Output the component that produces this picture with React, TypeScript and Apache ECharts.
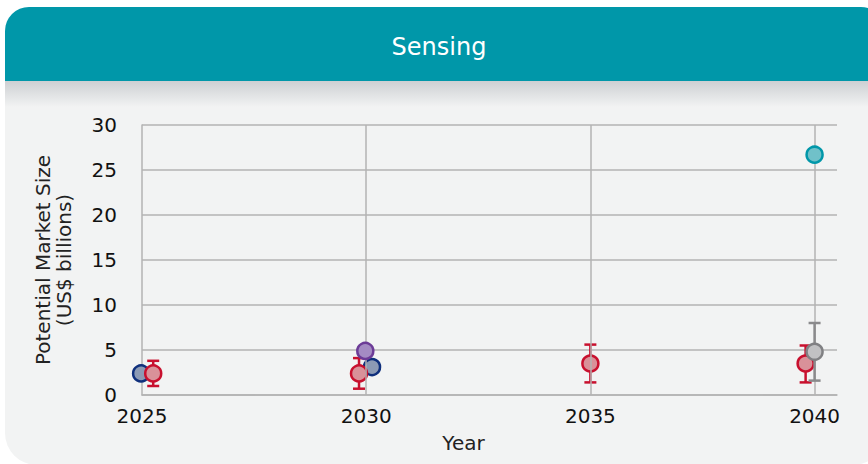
import React, { useEffect, useRef } from "react";
import * as echarts from "echarts";

const title = "Sensing";
const yAxisTitle = "Potential Market Size\n(US$ billions)";
const xAxisTitle = "Year";
const gridYears = [2025, 2030, 2035, 2040];

// [year (with slight horizontal offset as plotted), value]
const navySeries = [[2024.98, 2.4], [2030.13, 3.1]];
const pinkSeries = [[2025.25, 2.4], [2029.84, 2.4], [2035.0, 3.5], [2039.8, 3.5]];
const pinkErrors = [[2025.25, 1.0, 3.8], [2029.84, 0.7, 4.1], [2035.0, 1.4, 5.6], [2039.8, 1.4, 5.5]];
const purpleSeries = [[2029.98, 4.9]];
const tealSeries = [[2040.0, 26.7]];
const graySeries = [[2040.0, 4.8]];
const grayErrors = [[2040.0, 1.6, 8.0]];

const FONT = "DejaVu Sans";

function errorSeries(data: number[][], color: string, z: number) {
  return {
    type: "custom",
    z,
    silent: true,
    clip: false,
    data,
    encode: { x: 0, y: [1, 2] },
    renderItem: (params: any, api: any) => {
      const x = api.value(0);
      const lo = api.coord([x, api.value(1)]);
      const hi = api.coord([x, api.value(2)]);
      const w = 6;
      const style = { stroke: color, lineWidth: 2.5, fill: "none" };
      return {
        type: "group",
        children: [
          { type: "line", shape: { x1: lo[0], y1: lo[1], x2: hi[0], y2: hi[1] }, style },
          { type: "line", shape: { x1: lo[0] - w, y1: lo[1], x2: lo[0] + w, y2: lo[1] }, style },
          { type: "line", shape: { x1: hi[0] - w, y1: hi[1], x2: hi[0] + w, y2: hi[1] }, style },
        ],
      };
    },
  };
}

function dotSeries(name: string, data: number[][], fill: string, border: string, z: number) {
  return {
    name,
    type: "scatter",
    z,
    clip: false,
    data,
    symbol: "circle",
    symbolSize: 16,
    itemStyle: { color: fill, borderColor: border, borderWidth: 2.5, opacity: 1 },
  };
}

export default function App() {
  const ref = useRef<HTMLDivElement>(null);
  useEffect(() => {
    document.body.style.margin = "0";
    const chart = echarts.init(ref.current!, undefined, { renderer: "svg" });
    chart.setOption({
      animation: false,
      backgroundColor: "#ffffff",
      graphic: [
        {
          type: "rect",
          z: -10,
          silent: true,
          shape: { x: 5, y: 7, width: 880, height: 458, r: 32 },
          style: { fill: "#f2f3f3" },
        },
        {
          type: "rect",
          z: -9,
          silent: true,
          shape: { x: 5, y: 7, width: 880, height: 74, r: [24, 24, 0, 0] },
          style: { fill: "#0097a9" },
        },
        {
          type: "rect",
          z: -9,
          silent: true,
          shape: { x: 5, y: 81, width: 880, height: 26 },
          style: {
            fill: new echarts.graphic.LinearGradient(0, 0, 0, 1, [
              { offset: 0, color: "#cdd0d3" },
              { offset: 1, color: "#f2f3f3" },
            ]),
          },
        },
        {
          type: "text",
          z: 10,
          x: 439,
          y: 47,
          style: {
            text: title,
            fill: "#ffffff",
            font: `24px ${FONT}`,
            align: "center",
            verticalAlign: "middle",
          },
        },
      ],
      grid: { left: 142, right: 31, top: 125, bottom: 69, containLabel: false },
      xAxis: {
        type: "value",
        min: 2025,
        max: 2040.5,
        interval: 5,
        name: xAxisTitle,
        nameLocation: "middle",
        nameGap: 38,
        nameTextStyle: { fontFamily: FONT, fontSize: 20, color: "#222", padding: [0, 52, 0, 0] },
        axisLine: { show: true, lineStyle: { color: "#b3b3b3", width: 1.5 } },
        axisTick: { show: false },
        splitLine: { show: false },
        axisLabel: {
          fontFamily: FONT,
          fontSize: 20,
          color: "#111",
          margin: 11,
          showMaxLabel: false,
          formatter: (v: number) => (v % 5 === 0 ? String(v) : ""),
        },
      },
      yAxis: {
        type: "value",
        min: 0,
        max: 30,
        interval: 5,
        name: yAxisTitle,
        nameLocation: "middle",
        nameGap: 68,
        nameRotate: 90,
        nameTextStyle: { fontFamily: FONT, fontSize: 20, color: "#222", lineHeight: 21 },
        axisLine: { show: true, lineStyle: { color: "#b3b3b3", width: 1.5 } },
        axisTick: { show: false },
        splitLine: { show: true, lineStyle: { color: "#b3b3b3", width: 1.5 } },
        axisLabel: { fontFamily: FONT, fontSize: 20, color: "#111", margin: 25 },
      },
      series: [
        {
          type: "scatter",
          data: [],
          silent: true,
          z: 0,
          markLine: {
            silent: true,
            symbol: "none",
            label: { show: false },
            lineStyle: { color: "#b3b3b3", width: 1.5, type: "solid" },
            data: gridYears.slice(1).map((y) => ({ xAxis: y })),
          },
        },
        dotSeries("A", navySeries, "#8c9ab4", "#0f2f7c", 2),
        errorSeries(pinkErrors, "#c8102e", 3),
        dotSeries("B", pinkSeries, "#d99199", "#c8102e", 4),
        dotSeries("C", purpleSeries, "#a48bc3", "#6c3b97", 5),
        dotSeries("D", tealSeries, "#70c1c9", "#0097a9", 5),
        errorSeries(grayErrors, "#8a8a8c", 6),
        dotSeries("E", graySeries, "#c1c1c3", "#808083", 7),
      ],
    });
    return () => chart.dispose();
  }, []);
  return <div ref={ref} style={{ width: 868, height: 464 }} />;
}
